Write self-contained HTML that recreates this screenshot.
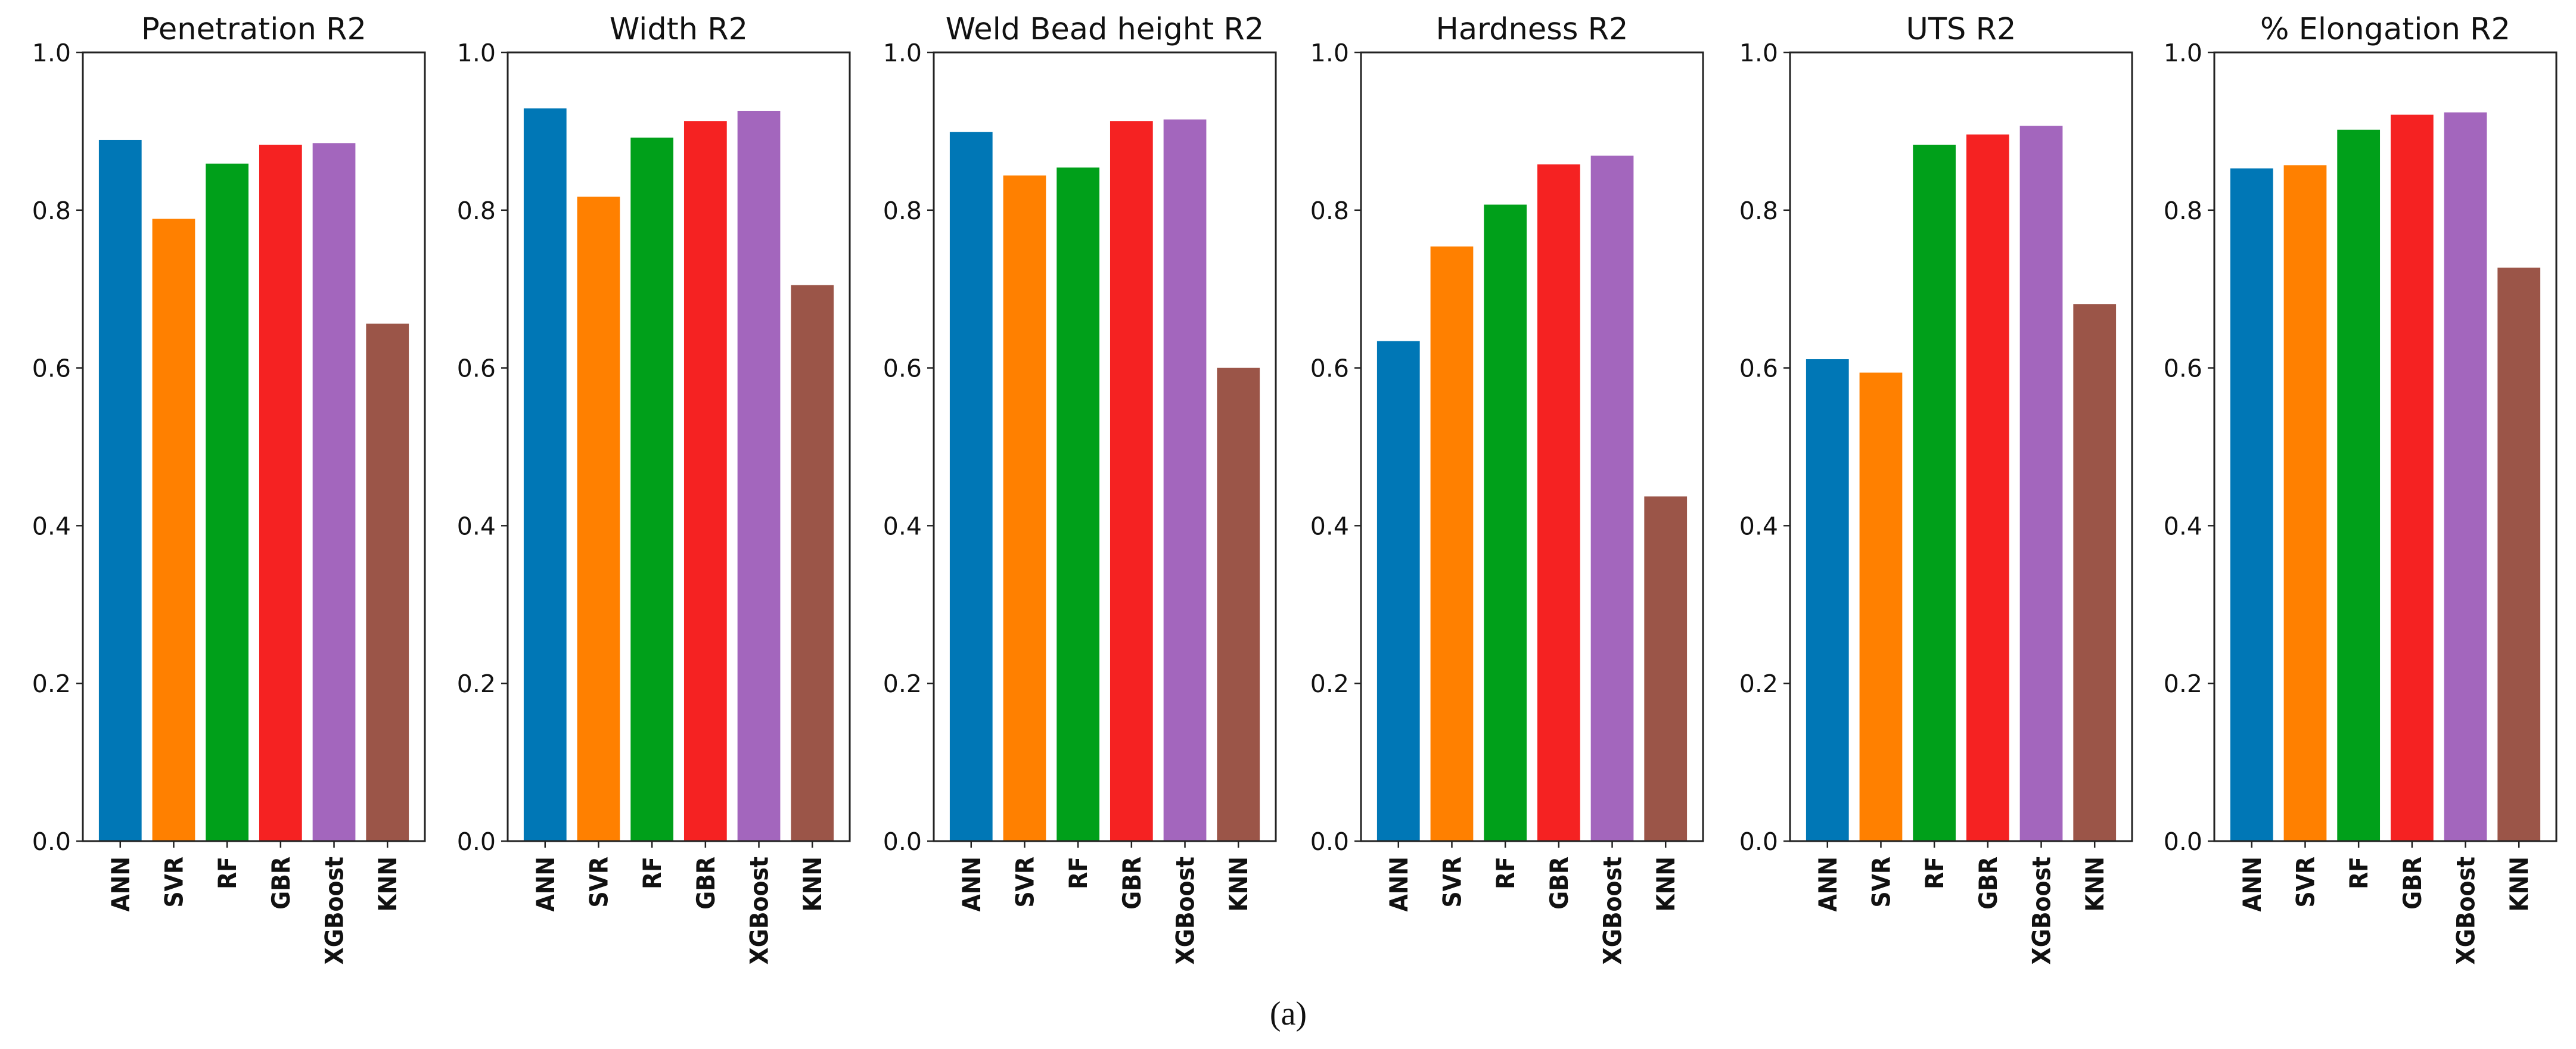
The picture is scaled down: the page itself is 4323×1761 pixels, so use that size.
<!DOCTYPE html>
<html><head><meta charset="utf-8"><style>
html,body{margin:0;padding:0;background:#fff;}
svg{display:block;}
text{font-family:"DejaVu Sans","Liberation Sans",sans-serif;fill:#111;}
</style></head><body>
<svg id="fig" xmlns="http://www.w3.org/2000/svg" width="4323" height="1761" viewBox="0 0 4323 1761"></svg>
<script>
const categories = ["ANN","SVR","RF","GBR","XGBoost","KNN"];
const panelTitles = ["Penetration R2","Width R2","Weld Bead height R2","Hardness R2","UTS R2","% Elongation R2"];
const penetration = [0.889,0.789,0.859,0.883,0.885,0.656];
const widthR2 = [0.929,0.817,0.892,0.913,0.926,0.705];
const weldBead = [0.899,0.844,0.854,0.913,0.915,0.600];
const hardness = [0.634,0.754,0.807,0.858,0.869,0.437];
const uts = [0.611,0.594,0.883,0.896,0.907,0.681];
const elongation = [0.853,0.857,0.902,0.921,0.924,0.727];
const yTicks = [0,0.2,0.4,0.6,0.8,1.0];
const yTickLabels = ["0.0","0.2","0.4","0.6","0.8","1.0"];

const series = [penetration,widthR2,weldBead,hardness,uts,elongation];
const colors = ["#0077b6","#ff8000","#00a01a","#f52222","#a366bd","#9b5548"];
const NS = "http://www.w3.org/2000/svg";
const svg = document.getElementById('fig');
const axLefts = [139,852,1567,2284,3004,3716];
const axW = 574, axTop = 88, axBottom = 1412;
function mk(tag, attrs, parent){const e=document.createElementNS(NS,tag);for(const k in attrs)e.setAttribute(k,attrs[k]);(parent||svg).appendChild(e);return e;}

series.forEach((vals,p)=>{
  const L = axLefts[p];
  const g = mk('g',{});
  
  
  const xScale = i => L + (i+0.7)/6.4*axW;
  const yScale = v => axBottom - v*(axBottom-axTop);
  const step = axW/6.4;
  vals.forEach((v,i)=>{
    const r = mk('rect',{x:xScale(i)-0.4*step,y:yScale(v),width:0.8*step,height:yScale(0)-yScale(v),fill:colors[i]},g);
    
    
  });
  const frame = mk('rect',{x:L,y:axTop,width:axW,height:axBottom-axTop,fill:'none',stroke:'#222','stroke-width':3},g);
  
  
  yTicks.forEach((t,k)=>{
    const y=yScale(t);
    mk('line',{x1:L-11,x2:L,y1:y,y2:y,stroke:'#222','stroke-width':2.5},g);
    const tx = mk('text',{x:L-20,y:y+15,'font-size':41,'text-anchor':'end'},g);
    tx.textContent = yTickLabels[k];
    
    
  });
  categories.forEach((c,i)=>{
    const x=xScale(i);
    mk('line',{x1:x,x2:x,y1:axBottom,y2:axBottom+11,stroke:'#222','stroke-width':2.5},g);
    const tx = mk('text',{x:0,y:0,'font-size':42,'font-weight':'bold','text-anchor':'end',
      style:'font-family:"DejaVu Sans Condensed","DejaVu Sans",sans-serif',
      transform:`translate(${x+15},${axBottom+26}) rotate(-90)`},g);
    tx.textContent = c;
    
    
  });
  const title = mk('text',{x:L+axW/2,y:66,'font-size':51,'text-anchor':'middle'},g);
  title.textContent = panelTitles[p];
  
  
});
const cap = mk('text',{x:2162,y:1720,'font-size':56,'text-anchor':'middle',style:'font-family:"Liberation Serif",serif'});
cap.textContent = "(a)";


</script>
</body></html>
